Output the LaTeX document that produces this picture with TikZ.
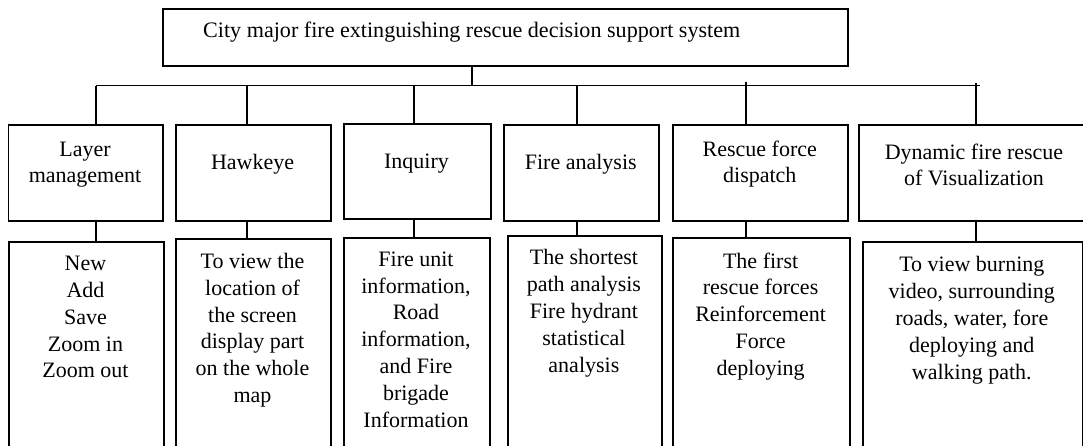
\documentclass[tikz,border=0pt]{standalone}
\usepackage{fontspec}
\setmainfont{Liberation Serif}
\begin{document}
\begin{tikzpicture}[x=1pt,y=-1pt]
\tikzstyle{box}=[draw=black,line width=1.8pt,rectangle,anchor=north west,inner sep=0pt]
\tikzstyle{txt}=[inner sep=0pt,align=center,font=\fontsize{22}{26}\selectfont]
\tikzstyle{lowtxt}=[txt,anchor=north,font=\fontsize{22}{26.8}\selectfont]
\tikzstyle{link}=[draw=black,line width=1.8pt]
\useasboundingbox (0,0) rectangle (1083,445);
\clip (0,0) rectangle (1083,445);
% top box
\node [box,minimum width=685,minimum height=57] (sys) at (162,8) {};
\node [txt,anchor=base west,font=\fontsize{22.1}{26}\selectfont] (systxt) at (203,37.5) {City major fire extinguishing rescue decision support system};
% middle row
\node [box,minimum width=154.8,minimum height=95.7] (m1) at (7.5,124.3) {};
\node [box,minimum width=154.7,minimum height=95.7] (m2) at (175.3,124.3) {};
\node [box,minimum width=147.7,minimum height=95] (m3) at (342.7,122.7) {};
\node [box,minimum width=155,minimum height=95.7] (m4) at (503.3,124.3) {};
\node [box,minimum width=175,minimum height=95.7] (m5) at (672.3,124.3) {};
\node [box,minimum width=232,minimum height=95.7] (m6) at (857.7,124.3) {};
\node [txt] (mt1) at (85,164.5) {Layer\\management};
\node [txt] (mt2) at (252.6,164.5) {Hawkeye};
\node [txt] (mt3) at (416.5,164) {Inquiry};
\node [txt] (mt4) at (580.8,164.5) {Fire analysis};
\node [txt] (mt5) at (759.8,164.5) {Rescue force\\dispatch};
\node [txt] (mt6) at (974,164.5) {Dynamic fire rescue\\of Visualization};
% bottom row
\node [box,minimum width=155.6,minimum height=220] (b1) at (7.7,241) {};
\node [box,minimum width=154.6,minimum height=220] (b2) at (175.4,238.3) {};
\node [box,minimum width=146.6,minimum height=220] (b3) at (342.7,237.3) {};
\node [box,minimum width=154.2,minimum height=220] (b4) at (506.8,235) {};
\node [box,minimum width=176.7,minimum height=220] (b5) at (672.3,236.7) {};
\node [box,minimum width=220.3,minimum height=220] (b6) at (861.7,240.7) {};
\node [lowtxt] (bt1) at (85.5,256) {New\\Add\\Save\\Zoom in\\Zoom out};
\node [lowtxt] (bt2) at (252.5,253) {To view the\\location of\\the screen\\display part\\on the whole\\map};
\node [lowtxt] (bt3) at (416,251.5) {Fire unit\\information,\\Road\\information,\\and Fire\\brigade\\Information};
\node [lowtxt] (bt4) at (583.9,249.5) {The shortest\\path analysis\\Fire hydrant\\statistical\\analysis};
\node [lowtxt] (bt5) at (760.6,252.5) {The first\\rescue forces\\Reinforcement\\Force\\deploying};
\node [lowtxt] (bt6) at (971.8,256.5) {To view burning\\video, surrounding\\roads, water, fore\\deploying and\\walking path.};
% connectors
\coordinate (tap) at (472,85.5);
\coordinate (busR) at (980,85.5);
\coordinate (d1) at (96,85.5);
\coordinate (d2) at (247.3,85.5);
\coordinate (d3) at (414.3,85.5);
\coordinate (d4) at (576.7,85.5);
\coordinate (d5) at (745.7,82);
\coordinate (d6) at (976,83);
\draw [link] (tap |- sys.south) -- (tap);
\draw [link] (d1) -- (busR);
\draw [link] (d1) -- (d1 |- m1.north);
\draw [link] (d2) -- (d2 |- m2.north);
\draw [link] (d3) -- (d3 |- m3.north);
\draw [link] (d4) -- (d4 |- m4.north);
\draw [link] (d5) -- (d5 |- m5.north);
\draw [link] (d6) -- (d6 |- m6.north);
\draw [link] (d1 |- m1.south) -- (d1 |- b1.north);
\draw [link] (d2 |- m2.south) -- (d2 |- b2.north);
\draw [link] (d3 |- m3.south) -- (d3 |- b3.north);
\draw [link] (d4 |- m4.south) -- (d4 |- b4.north);
\draw [link] (d5 |- m5.south) -- (d5 |- b5.north);
\draw [link] (d6 |- m6.south) -- (d6 |- b6.north);
\end{tikzpicture}
\end{document}
